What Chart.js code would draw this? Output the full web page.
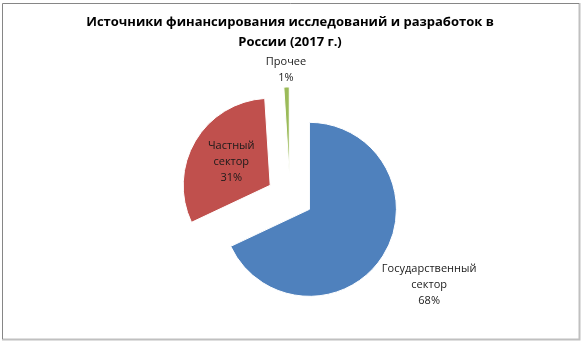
<!DOCTYPE html>
<html>
<head>
<meta charset="utf-8">
<script src="https://cdn.jsdelivr.net/npm/chart.js@4.4.1/dist/chart.umd.min.js"></script>
<style>
  html, body { margin: 0; padding: 0; background: #fff; }
  #wrap { width: 582px; height: 342px; position: relative; }
</style>
</head>
<body>
<div id="wrap"><canvas id="chart"></canvas></div>
<script>
// data
const categories = ['Государственный сектор', 'Частный сектор', 'Прочее'];
const shares = [68, 31, 1];
const sliceColors = ['#4F81BD', '#C0504D', '#9BBB59'];
const titleLines = ['Источники финансирования исследований и разработок в', 'России (2017 г.)'];

const EXPLODE = 23;
// how far out each label sits, as a fraction of the radius (beyond the explode shift)
const labelReach = [1.63, 0.52, 1.2];

// pulls every slice out along its middle angle, like the exploded excel pie
const explodePlugin = {
    id: 'explode',
    beforeDatasetDraw(chart, args) {
        args.meta.data.forEach(function(arc) {
            if (arc._exploded) return;
            const origDraw = arc.draw.bind(arc);
            arc.draw = function(ctx, area) {
                const mid = (this.startAngle + this.endAngle) / 2;
                ctx.save();
                ctx.translate(Math.cos(mid) * EXPLODE, Math.sin(mid) * EXPLODE);
                origDraw(ctx, area);
                ctx.restore();
            };
            arc._exploded = true;
        });
    }
};

const sliceLabels = {
    id: 'sliceLabels',
    afterDatasetsDraw(chart) {
        const ctx = chart.ctx;
        const meta = chart.getDatasetMeta(0);
        ctx.save();
        ctx.font = '11px "Open Sans", "DejaVu Sans", sans-serif';
        ctx.fillStyle = '#1a1a1a';
        ctx.textAlign = 'center';
        ctx.textBaseline = 'middle';
        meta.data.forEach(function(arc, i) {
            const mid = (arc.startAngle + arc.endAngle) / 2;
            const dist = EXPLODE + arc.outerRadius * labelReach[i];
            const x = arc.x + Math.cos(mid) * dist;
            const y = arc.y + Math.sin(mid) * dist;
            const lines = categories[i].split(' ').concat(shares[i] + '%');
            const lh = 16;
            lines.forEach(function(line, k) {
                ctx.fillText(line, x, y + (k - (lines.length - 1) / 2) * lh);
            });
        });
        ctx.restore();
    }
};

const frame = {
    id: 'frame',
    afterDraw(chart) {
        const ctx = chart.ctx;
        ctx.save();
        ctx.strokeStyle = '#c0c0c0';
        ctx.lineWidth = 2;
        ctx.beginPath();
        ctx.moveTo(579.5, 3);
        ctx.lineTo(579.5, 339.5);
        ctx.lineTo(2, 339.5);
        ctx.stroke();
        ctx.strokeStyle = '#868686';
        ctx.lineWidth = 1;
        ctx.beginPath();
        ctx.moveTo(2.5, 339);
        ctx.lineTo(2.5, 3.5);
        ctx.lineTo(579, 3.5);
        ctx.stroke();
        ctx.restore();
    }
};

new Chart(document.getElementById('chart'), {
    type: 'pie',
    data: {
        labels: categories,
        datasets: [{
            data: shares,
            backgroundColor: sliceColors,
            borderColor: '#ffffff',
            borderWidth: 1
        }]
    },
    options: {
        responsive: true,
        maintainAspectRatio: false,
        animation: false,
        radius: 87,
        layout: { padding: { left: 0, right: 2, top: 0, bottom: 0 } },
        plugins: {
            legend: { display: false },
            tooltip: { enabled: false },
            title: {
                display: true,
                text: titleLines,
                color: '#000000',
                font: { family: '"Open Sans", "DejaVu Sans", sans-serif', size: 13, weight: 'bold', lineHeight: 1.5 },
                padding: { top: 13, bottom: 0 }
            }
        }
    },
    plugins: [explodePlugin, sliceLabels, frame]
});
</script>
</body>
</html>
